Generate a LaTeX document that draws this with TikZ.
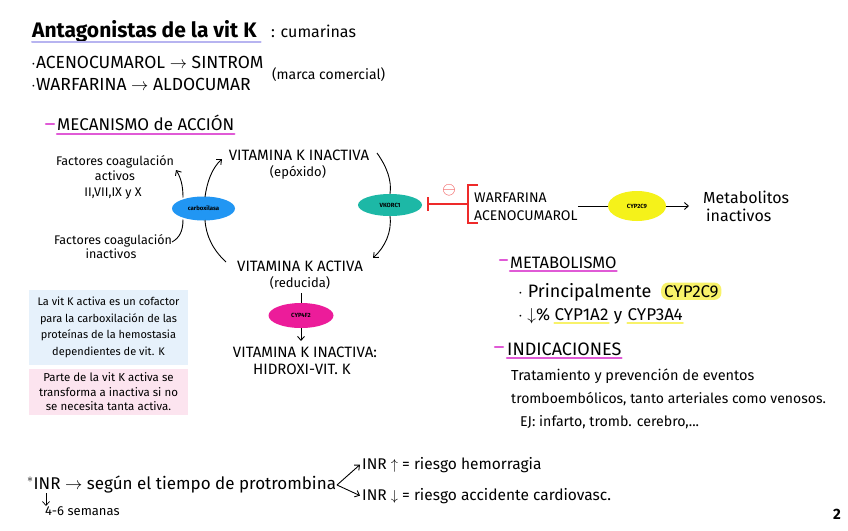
\documentclass[tikz,border=0pt]{standalone}
\usepackage{fontspec}
\setmainfont{Fira Sans}
\usetikzlibrary{shapes.geometric,arrows.meta}
\definecolor{lav}{HTML}{B7B4F0}
\definecolor{mag}{HTML}{E05AD6}
\definecolor{carbblue}{HTML}{2196F3}
\definecolor{vkteal}{HTML}{1DB8A6}
\definecolor{cyppink}{HTML}{EC1C9A}
\definecolor{cypyel}{HTML}{F5F21A}
\definecolor{hlyel}{HTML}{F8F26A}
\definecolor{boxblue}{HTML}{E6F1FB}
\definecolor{boxpink}{HTML}{FCE4EF}
\definecolor{inhred}{HTML}{EE2A2A}
\newcommand{\fs}[1]{\fontsize{#1}{#1}\selectfont}
\begin{document}
\begin{tikzpicture}[x=1pt,y=-1pt,
  t/.style={inner sep=0pt,anchor=base west},
  tc/.style={inner sep=0pt,anchor=base},
  enz/.style={ellipse,minimum width=63pt,minimum height=24pt,inner sep=0pt,font=\fs{6}\bfseries},
  arr/.style={-{Straight Barb[length=4pt,width=7pt]},line width=0.9pt},
  ln/.style={line width=0.9pt},
  magul/.style={mag,line width=2.2pt,line cap=round},
  yelul/.style={hlyel,line width=2.2pt,line cap=round},
  note/.style={inner sep=0pt,align=center}
]
\useasboundingbox (0,0) rectangle (848,530);
\fill[white] (0,0) rectangle (848,530);

% title
\node[t,font=\fs{21}\bfseries] (title) at (32,37) {Antagonistas de la vit K};
\draw[lav,line width=2pt,line cap=round] ([yshift=-4.5pt]title.base west) -- ([yshift=-4.5pt,xshift=4pt]title.base east);
\node[t,font=\fs{16}] (cum) at (271,37) {: cumarinas};

\node[t,font=\fs{17.5}] (l1) at (31,68) {$\cdot$ACENOCUMAROL $\rightarrow$ SINTROM};
\node[t,font=\fs{17.5}] (l2) at (31,90) {$\cdot$WARFARINA $\rightarrow$ ALDOCUMAR};
\node[t,font=\fs{14}] (marca) at (272,79) {(marca comercial)};

% mecanismo
\draw[magul] (46,124) -- (54,124);
\node[t,font=\fs{17}] (mec) at (57,130.5) {MECANISMO de ACCIÓN};
\draw[magul] ([yshift=-3.5pt]mec.base west) -- ([yshift=-3.5pt]mec.base east);

% left side
\node[tc,font=\fs{12.5}] (factA1) at (115,165) {Factores coagulación};
\node[tc,font=\fs{12.5}] (factA2) at (115,180) {activos};
\node[tc,font=\fs{12.5}] (factA3) at (113,196) {II,VII,IX y X};
\node[tc,font=\fs{12.5}] (factI1) at (113,244) {Factores coagulación};
\node[tc,font=\fs{12.5}] (factI2) at (111,258) {inactivos};
\node[enz,fill=carbblue] (carb) at (203.5,208.5) {carboxilasa};

\coordinate (fa) at (176,170);
\coordinate (fi) at (172,242);
\coordinate (cA) at (183,197.5);
\coordinate (cB) at (183,219.5);
\coordinate (cC) at (205,197);
\coordinate (cD) at (205,220);
\draw[arr] (cA) .. controls (183,186) and (181,178) .. (fa);
\draw[ln] (cB) .. controls (183,232) and (179,238) .. (fi);

% vitamin cycle
\node[tc,font=\fs{15}] (vki) at (299,160) {VITAMINA K INACTIVA};
\node[tc,font=\fs{13}] (vkie) at (298,176) {(epóxido)};
\node[tc,font=\fs{15}] (vka) at (300,271) {VITAMINA K ACTIVA};
\node[tc,font=\fs{13}] (vkar) at (300,287) {(reducida)};
\node[enz,fill=vkteal,minimum width=64pt,minimum height=22pt] (vkorc) at (390,205) {VKORC1};
\node[enz,fill=cyppink,minimum width=65pt,minimum height=25pt] (cyp4) at (301,315.5) {CYP4F2};
\node[tc,font=\fs{15}] (hid1) at (305,357) {VITAMINA K INACTIVA:};
\node[tc,font=\fs{15}] (hid2) at (302,374) {HIDROXI-VIT. K};

\coordinate (vkiArr) at (222,159);
\coordinate (vkaStart) at (226,262);
\coordinate (vkiEnd) at (377,153);
\coordinate (vkaArr) at (373,258);
\draw[arr] (cC) .. controls (207,182) and (212,168) .. (vkiArr);
\draw[ln] (vkaStart) .. controls (213,250) and (206,236) .. (cD);
\draw[ln] (vkiEnd) .. controls (387,167) and (392,181) .. (vkorc.north);
\draw[arr] (vkorc.south) .. controls (392,232) and (385,247) .. (vkaArr);

\coordinate (cyp4top) at (301,293);
\coordinate (cyp4arr) at (301,341);
\draw[ln] (cyp4top) -- (cyp4.north);
\draw[arr] (cyp4.south) -- (cyp4arr);

% inhibition
\coordinate (br) at (468,204);
\coordinate (bar) at (428,204);
\draw[inhred,line width=1.3pt] (428,197) -- (428,211);
\draw[inhred,line width=1.3pt] (bar) -- (br);
\draw[inhred,line width=1.3pt] (478,185) -- (468,185) -- (468,223) -- (478,223);
\node[inhred,inner sep=0pt,font=\fs{17}] (minus) at (449,190) {$\ominus$};
\node[t,font=\fs{14}] (warf) at (474,202) {WARFARINA};
\node[t,font=\fs{14}] (acen) at (474,220) {ACENOCUMAROL};
\node[enz,fill=cypyel,minimum width=58pt,minimum height=30pt] (cyp2) at (637,206) {CYP2C9};
\node[t,font=\fs{16}] (met1) at (703,203) {Metabolitos};
\node[t,font=\fs{16}] (met2) at (706,221) {inactivos};
\coordinate (metL) at (689,206);
\draw[ln] (acen.east |- cyp2) -- (cyp2.west);
\draw[arr] (cyp2.east) -- (metL);

% metabolismo
\draw[magul] (500,260) -- (507,260);
\node[t,font=\fs{16.5}] (metab) at (510,268) {METABOLISMO};
\draw[magul] ([yshift=-3pt]metab.base west) -- ([yshift=-3pt]metab.base east);
\node[t,font=\fs{18}] (p1) at (518,297) {$\cdot$ Principalmente};
\node[t,font=\fs{17},fill=hlyel,rounded corners=7pt,inner xsep=3pt,inner ysep=2.5pt] (p1b) at (661,297) {CYP2C9};
\node[t,font=\fs{17}] (p2a) at (518,320) {$\cdot$ $\downarrow$\% };
\node[t,font=\fs{17}] (p2b) at ([xshift=4pt]p2a.base east) {CYP1A2};
\node[t,font=\fs{17}] (p2c) at ([xshift=5pt]p2b.base east) {y};
\node[t,font=\fs{17}] (p2d) at ([xshift=5pt]p2c.base east) {CYP3A4};
\draw[yelul] ([yshift=-3pt]p2b.base west) -- ([yshift=-3pt]p2b.base east);
\draw[yelul] ([yshift=-3pt]p2d.base west) -- ([yshift=-3pt]p2d.base east);

% indicaciones
\draw[magul] (495,347) -- (503,347);
\node[t,font=\fs{18}] (ind) at (507,355) {INDICACIONES};
\draw[magul] ([yshift=-3pt]ind.base west) -- ([yshift=-3pt]ind.base east);
\node[t,font=\fs{14.5}] (t1) at (511,380) {Tratamiento y prevención de eventos};
\node[t,font=\fs{14}] (t2) at (511,403) {tromboembólicos, tanto arteriales como venosos.};
\node[t,font=\fs{14.2}] (t3) at (520,426) {EJ: infarto, tromb. cerebro,...};

% notes
\node[fill=boxblue,minimum width=159pt,minimum height=75pt,inner sep=0pt] (bb) at (108.5,327.5) {};
\node[note,font=\fontsize{11}{16.7}\selectfont] at (bb.center) {La vit K activa es un cofactor\\para la carboxilación de las\\proteínas de la hemostasia\\dependientes de vit. K};
\node[fill=boxpink,minimum width=159pt,minimum height=46pt,inner sep=0pt] (pb) at (108.5,392) {};
\node[note,font=\fontsize{11.5}{14.5}\selectfont] at (pb.center) {Parte de la vit K activa se\\transforma a inactiva si no\\se necesita tanta activa.};

% INR
\node[t,font=\fs{17}] (inr) at (27,489) {$^{*}$INR $\rightarrow$ según el tiempo de protrombina};
\node[t,font=\fs{15.5}] (inr1) at (362,469) {INR $\uparrow$ = riesgo hemorragia};
\node[t,font=\fs{15.5}] (inr2) at (362,500) {INR $\downarrow$ = riesgo accidente cardiovasc.};
\coordinate (fork) at (337,485);
\draw[arr] (fork) -- ([xshift=-2pt]inr1.west);
\draw[arr] (fork) -- ([xshift=-2pt]inr2.west);
\node[t,font=\fs{13}] (sem) at (45,515) {4-6 semanas};
\coordinate (inrb) at (46,493);
\draw[arr,line width=0.7pt] (inrb) -- (46,506);

\node[inner sep=0pt,font=\fs{15}\bfseries] (pg) at (837,514) {2};
\end{tikzpicture}
\end{document}
